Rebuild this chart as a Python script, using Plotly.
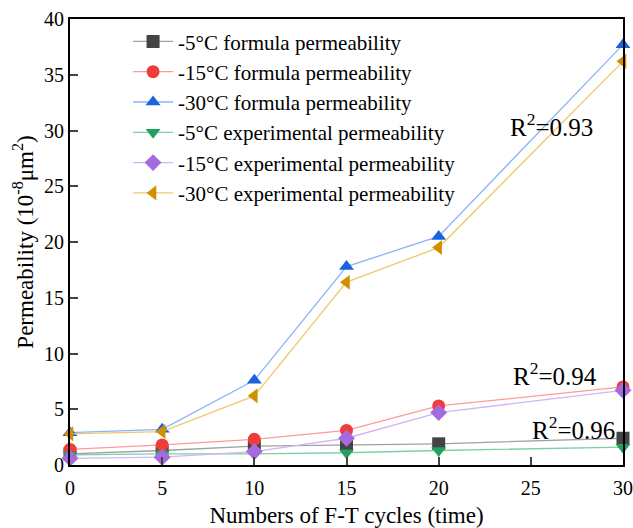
import plotly.graph_objects as go

cycles = [0, 5, 10, 15, 20, 30]
f5 = [1.0, 1.3, 1.7, 1.8, 1.9, 2.4]
f15 = [1.4, 1.8, 2.3, 3.1, 5.3, 7.0]
f30 = [2.9, 3.2, 7.6, 17.8, 20.5, 37.7]
e5 = [0.9, 1.0, 1.0, 1.1, 1.3, 1.6]
e15 = [0.6, 0.7, 1.2, 2.4, 4.7, 6.7]
e30 = [2.8, 3.0, 6.2, 16.4, 19.5, 36.2]

names = ["-5°C formula permeability", "-15°C formula permeability", "-30°C formula permeability",
         "-5°C experimental permeability", "-15°C experimental permeability", "-30°C experimental permeability"]
series = [f5, f15, f30, e5, e15, e30]
mcolors = ["#444444", "#f23c3c", "#1a62e0", "#23a060", "#a66ae0", "#d09000"]
lcolors = ["#a0a0a0", "#ff9a9a", "#8ab4f8", "#7fd0a0", "#d4b4f4", "#f0c870"]
symbols = ["square", "circle", "triangle-up", "triangle-down", "diamond", "triangle-left"]

FONT = "Liberation Serif"

fig = go.Figure()
for n, s, mc, lc, sym in zip(names, series, mcolors, lcolors, symbols):
    fig.add_trace(go.Scatter(x=cycles, y=s, name=n, mode="lines+markers",
                             line=dict(color=lc, width=1.3),
                             marker=dict(color=mc, symbol=sym, size=13),
                             cliponaxis=False))

fig.update_layout(
    width=633, height=528,
    margin=dict(l=70, r=10, t=19, b=63),
    paper_bgcolor="white", plot_bgcolor="white",
    font=dict(family=FONT, color="black", size=20),
    showlegend=True,
    legend=dict(x=0.105, y=0.995, xanchor="left", yanchor="top",
                bgcolor="rgba(0,0,0,0)", font=dict(size=21, family=FONT, color="black"),
                tracegroupgap=0, itemwidth=40),
    annotations=[
        dict(x=26.1, y=30.5, text="R<sup>2</sup>=0.93", showarrow=False, font=dict(size=25, family=FONT, color="black")),
        dict(x=26.3, y=8.2, text="R<sup>2</sup>=0.94", showarrow=False, font=dict(size=25, family=FONT, color="black")),
        dict(x=27.3, y=3.3, text="R<sup>2</sup>=0.96", showarrow=False, font=dict(size=25, family=FONT, color="black")),
    ],
)
fig.update_xaxes(range=[0, 30], tickvals=[0, 5, 10, 15, 20, 25, 30], ticks="inside", ticklen=8,
                 tickwidth=2, showline=True, linecolor="black", linewidth=2, mirror=True,
                 showgrid=False, zeroline=False, ticklabelstandoff=4, automargin=False,
                 title=dict(text="Numbers of F-T cycles (time)", font=dict(size=23, family=FONT, color="black"), standoff=14),
                 tickfont=dict(size=20, family=FONT, color="black"))
fig.update_yaxes(range=[0, 40], dtick=5, ticks="inside", ticklen=8, tickwidth=2,
                 showline=True, linecolor="black", linewidth=2, mirror=True,
                 showgrid=False, zeroline=False, automargin=False,
                 title=dict(text="Permeability (10<sup>-8</sup>μm<sup>2</sup>)", font=dict(size=23, family=FONT, color="black"), standoff=4),
                 tickfont=dict(size=20, family=FONT, color="black"))

fig.write_html("out.html")
